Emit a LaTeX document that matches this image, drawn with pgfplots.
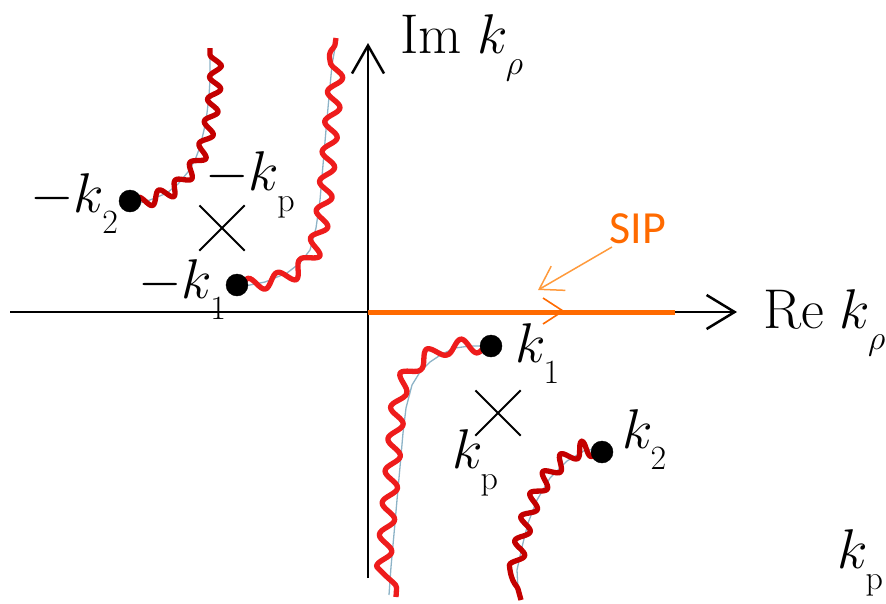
\RequirePackage{fix-cm}
\documentclass[border=0pt]{standalone}
\usepackage{fontspec}
\newfontfamily\sipfont{Carlito}
\usepackage{pgfplots}
\pgfplotsset{compat=1.18}
\usetikzlibrary{decorations.pathmorphing, arrows.meta}
\definecolor{sipor}{HTML}{FF6A00}
\definecolor{sipar}{HTML}{FF9A3C}
\definecolor{redA}{HTML}{C40000}
\definecolor{redB}{HTML}{EE1C1C}
\definecolor{baseb}{HTML}{8DB3C7}
\newcommand\bigf{\fontsize{56}{60}\selectfont}
\newcommand\sbx[1]{_{\raisebox{-13pt}{\fontsize{34}{36}\selectfont$#1$}}}
\begin{document}
\begin{tikzpicture}
\begin{axis}[name=ax, width=886pt, height=603pt, scale only axis,
  xmin=0, xmax=886, ymin=0, ymax=603, y dir=reverse, hide axis, clip=false]
% axes
\addplot[black, line width=2.5pt, -{Straight Barb[length=28pt,width=34pt]}] coordinates {(10,312) (737,312)};
\addplot[black, line width=2.5pt, -{Straight Barb[length=28pt,width=32pt]}] coordinates {(368,578) (368,43)};
% SIP path
\addplot[sipor, line width=5pt] coordinates {(368,312) (675,312)};
\addplot[sipor, line width=1.6pt] coordinates {(543,298) (563,311) (543,324)};
\addplot[sipar, line width=1.5pt, -{Straight Barb[length=22pt,width=28pt]}] coordinates {(612,247) (538,290)};
% branch cuts: base lines
\addplot[baseb, line width=1.3pt] coordinates {(133,205) (150,200) (167,193) (178,184) (188,172) (195,160) (200,147) (204,130) (207,113) (209,96) (210,80) (210,65) (210,50)};
\addplot[baseb, line width=1.3pt] coordinates {(240,287) (265,282) (287,273) (300,263) (310,250) (316,228) (320,200) (323,165) (326,130) (329,97) (332,65) (336,42)};
\addplot[baseb, line width=1.3pt] coordinates {(487,346) (470,346) (455,348) (442,354) (430,362) (420,372) (412,385) (406,408) (403,433) (400,467) (397,500) (394,534) (391,567) (389,595)};
\addplot[baseb, line width=1.3pt] coordinates {(600,452) (587,449) (567,461) (550,478) (537,500) (528,523) (522,547) (517,570) (518,590) (521,600)};
% branch cuts: wavy (polyline base, snake decoration)
\addplot[redA, line width=5.3pt, line join=round, decorate, decoration={snake, amplitude=6pt, segment length=23pt}] coordinates {(133,205) (150,200) (167,193) (178,184) (188,172) (195,160) (200,147) (204,130) (207,113) (209,96) (210,80) (210,65) (210,48)};
\addplot[redB, line width=5.3pt, line join=round, decorate, decoration={snake, amplitude=7pt, segment length=30pt}] coordinates {(240,287) (265,282) (287,273) (300,263) (310,250) (316,228) (320,200) (323,165) (326,130) (329,97) (332,65) (336,38)};
\addplot[redB, line width=5.3pt, line join=round, decorate, decoration={snake, amplitude=7pt, segment length=32pt}] coordinates {(487,346) (470,346) (455,348) (442,354) (430,362) (421,373) (415,387) (412,408) (410,433) (407,467) (404,500) (401,534) (398,567) (396,597)};
\addplot[redA, line width=5.3pt, line join=round, decorate, decoration={snake, amplitude=6.5pt, segment length=25pt}] coordinates {(600,452) (587,449) (567,461) (550,478) (537,500) (528,523) (522,547) (517,570) (518,590) (521,600)};
% branch points
\addplot[only marks, mark=*, mark size=11pt, black] coordinates {(130,201) (237,285) (491,346) (602,452)};
% poles
\addplot[only marks, mark=x, mark size=32pt, black, line width=2pt] coordinates {(222,228) (498,413)};
% labels
\node[anchor=base west, inner sep=0pt] at (axis cs:400,53) {\bigf$\mathrm{Im}\;k\sbx{\rho}$};
\node[anchor=base west, inner sep=0pt] at (axis cs:763,328) {\bigf$\mathrm{Re}\;k\sbx{\rho}$};
\node[anchor=base west, inner sep=0pt] at (axis cs:515,362) {\bigf$k\sbx{1}$};
\node[anchor=base west, inner sep=0pt] at (axis cs:622,448) {\bigf$k\sbx{2}$};
\node[anchor=base west, inner sep=0pt] at (axis cs:452,468) {\bigf$k\sbx{\mathrm{p}}$};
\node[anchor=base west, inner sep=0pt] at (axis cs:837,568) {\bigf$k\sbx{\mathrm{p}}$};
\node[anchor=base west, inner sep=0pt] at (axis cs:30,212) {\bigf$-k\sbx{2}$};
\node[anchor=base west, inner sep=0pt] at (axis cs:138,298) {\bigf$-k\sbx{1}$};
\node[anchor=base west, inner sep=0pt] at (axis cs:205,190) {\bigf$-k\sbx{\mathrm{p}}$};
\node[text=sipor, inner sep=0pt] at (axis cs:638,229) {\sipfont\fontsize{46}{50}\selectfont SIP};
\end{axis}
\pgfresetboundingbox
\useasboundingbox (ax.south west) rectangle (ax.north east);
\end{tikzpicture}
\end{document}
